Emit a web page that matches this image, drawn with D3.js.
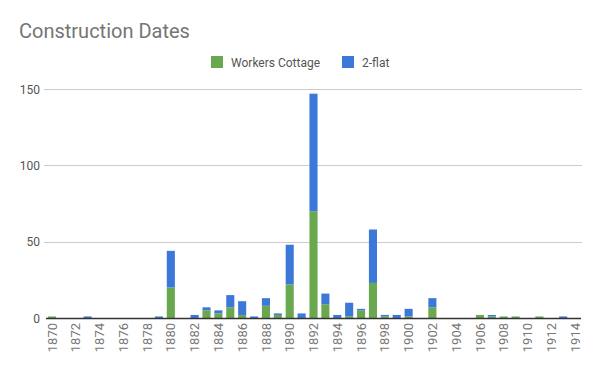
<!DOCTYPE html>
<html><head><meta charset="utf-8">
<script src="https://cdn.jsdelivr.net/npm/d3@7"></script>
<style>body{margin:0;background:#fff}svg{display:block;font-family:Roboto,"Noto Sans",sans-serif}</style>
</head><body><svg id="c" width="600" height="371"></svg>
<script>
const years = d3.range(1870, 1915).map(String);
const workersCottage = [1,0,0,0,0,0,0,0,0,0, 20,0,0,5,3,7,2,0,8,2, 22,0,70,9,0,1,5,23,1,0, 1,0,7,0,0,0,2,1,1,1, 0,1,0,0,0];
const twoFlat        = [0,0,0,1,0,0,0,0,0,1, 24,0,2,2,2,8,9,1,5,1, 26,3,77,7,2,9,1,35,1,2, 5,0,6,0,0,0,0,1,0,0, 0,0,0,1,0];
const seriesNames = ["Workers Cottage", "2-flat"];
const colors = ["#6aa84f", "#3c78d8"];
const yTicks = [0, 50, 100, 150];
const xTickLabels = years.filter((d, i) => i % 2 === 0);

const svg = d3.select("#c");
const m = {l: 46, r: 19, t: 80, b: 53};
const W = 600, H = 371;
const x = d3.scaleBand().domain(years).range([m.l, W - m.r]).paddingInner(0.32).paddingOuter(0.16);
const y = d3.scaleLinear().domain([0, 160]).range([H - m.b, H - m.b - 160 * 1.526]);

svg.append("text").attr("x", 19).attr("y", 38).attr("font-size", 20).attr("fill", "#757575").text("Construction Dates");

// gridlines
svg.append("g").selectAll("line").data(yTicks.filter(d => d > 0)).join("line")
  .attr("x1", m.l - 2).attr("x2", W - m.r + 1)
  .attr("y1", d => Math.round(y(d)) + 0.5).attr("y2", d => Math.round(y(d)) + 0.5)
  .attr("stroke", "#cccccc");

const yAxis = svg.append("g").attr("transform", `translate(${m.l - 6},0)`)
  .call(d3.axisLeft(y).tickValues(yTicks).tickSize(0).tickPadding(0));
yAxis.select(".domain").remove();
yAxis.selectAll("text").attr("font-size", 12).attr("fill", "#555").attr("font-family", "Roboto, sans-serif").attr("dy", "0.35em");

// stacked data
const rows = years.map((yr, i) => ({year: yr, wc: workersCottage[i], tf: twoFlat[i]}));
const stack = d3.stack().keys(["wc", "tf"])(rows);
svg.append("g").selectAll("g").data(stack).join("g").attr("fill", (d, i) => colors[i])
  .selectAll("rect").data(d => d.filter(p => p[1] - p[0] > 0)).join("rect")
  .attr("x", d => x(d.data.year)).attr("width", x.bandwidth())
  .attr("y", d => y(d[1])).attr("height", d => y(d[0]) - y(d[1]));

// baseline
svg.append("line").attr("x1", m.l).attr("x2", W - m.r).attr("y1", y(0) + 0.5).attr("y2", y(0) + 0.5)
  .attr("stroke", "#333").attr("stroke-width", 1.5);

const xAxis = svg.append("g").attr("transform", `translate(0,${y(0)})`)
  .call(d3.axisBottom(x).tickValues(xTickLabels).tickSize(0).tickPadding(0));
xAxis.select(".domain").remove();
xAxis.selectAll("text").attr("font-size", 13).attr("fill", "#777").attr("font-family", "Roboto, sans-serif")
  .attr("transform", "rotate(-90)").attr("text-anchor", "end").attr("x", -5).attr("y", 0).attr("dy", "0.35em");

// legend
const lg = svg.append("g");
const legendX = [211, 342];
seriesNames.forEach((n, i) => {
  lg.append("rect").attr("x", legendX[i]).attr("y", 56).attr("width", 12).attr("height", 12).attr("fill", colors[i]);
  lg.append("text").attr("x", legendX[i] + 20).attr("y", 66.5).attr("font-size", 12).attr("fill", "#555").text(n);
});
</script></body></html>
